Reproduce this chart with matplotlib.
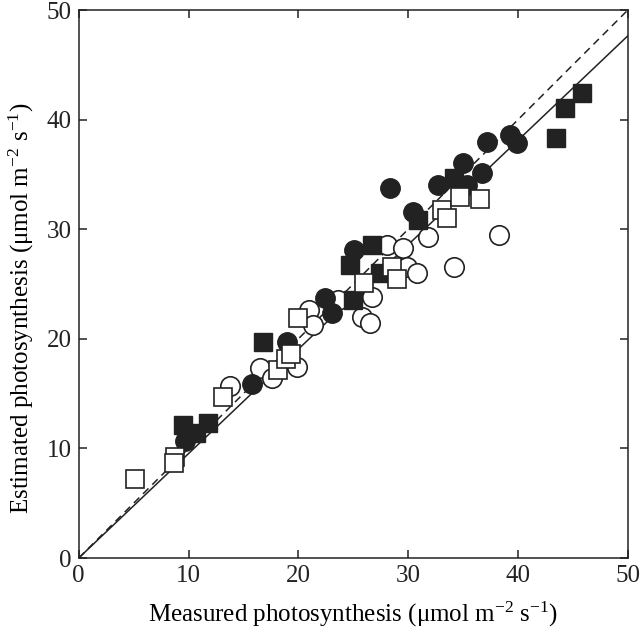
import numpy as np
import matplotlib
matplotlib.use('Agg')
import matplotlib.pyplot as plt

plt.rcParams['font.family'] = ['Liberation Serif', 'DejaVu Serif']
plt.rcParams['mathtext.fontset'] = 'custom'
plt.rcParams['mathtext.rm'] = 'Liberation Serif'
plt.rcParams['mathtext.it'] = 'Liberation Serif:italic'

# filled circles
fc_x = [9.7, 15.8, 19.0, 22.4, 23.1, 25.1, 28.3, 30.4, 32.7, 35.0, 35.4, 36.7, 37.2, 39.3, 39.9]
fc_y = [10.7, 15.9, 19.7, 23.7, 22.4, 28.1, 33.8, 31.6, 34.0, 36.0, 34.0, 35.1, 38.0, 38.6, 37.9]

# filled squares
fs_x = [9.5, 11.8, 10.7, 16.8, 25.0, 24.7, 26.7, 27.4, 30.9, 34.2, 43.5, 44.3, 45.8]
fs_y = [12.1, 12.3, 11.4, 19.7, 23.5, 26.7, 28.6, 26.0, 30.8, 34.7, 38.3, 41.1, 42.4]

# open circles
oc_x = [13.8, 16.5, 17.6, 19.9, 21.0, 21.3, 23.6, 25.8, 26.5, 26.7, 28.1, 29.5, 29.9, 30.8, 31.8, 34.2, 38.3]
oc_y = [15.7, 17.3, 16.4, 17.4, 22.6, 21.3, 23.5, 22.0, 21.4, 23.8, 28.6, 28.3, 26.6, 26.0, 29.3, 26.6, 29.5]

# open squares
os_x = [5.1, 8.8, 8.7, 13.1, 18.1, 18.9, 19.3, 20.0, 26.0, 28.5, 29.0, 33.1, 33.5, 34.7, 36.5]
os_y = [7.2, 9.2, 8.7, 14.7, 17.2, 18.2, 18.6, 21.9, 25.1, 26.6, 25.5, 31.8, 31.0, 32.9, 32.8]

slope = 0.953

fig = plt.figure(figsize=(6.4, 6.36), dpi=100)
ax = fig.add_axes([0.123, 0.1226, 0.858, 0.8616])

xx = np.array([0, 50])
ax.plot(xx, xx, color='#222222', linestyle=(0, (5, 3.5)), linewidth=1.1, zorder=1)
ax.plot(xx, slope * xx, color='#222222', linestyle='-', linewidth=1.1, zorder=1)

ms = 14
ax.plot(oc_x, oc_y, 'o', ms=ms, mfc='white', mec='#222222', mew=1.2, zorder=2)
ax.plot(fc_x, fc_y, 'o', ms=ms, mfc='#222222', mec='#222222', mew=1.0, zorder=3)
ax.plot(fs_x, fs_y, 's', ms=ms - 0.5, mfc='#222222', mec='#222222', mew=1.0, zorder=4)
ax.plot(os_x, os_y, 's', ms=ms - 0.5, mfc='white', mec='#222222', mew=1.2, zorder=5)

ax.set_xlim(0, 50)
ax.set_ylim(0, 50)
ax.set_xticks([0, 10, 20, 30, 40, 50])
ax.set_yticks([0, 10, 20, 30, 40, 50])
ax.tick_params(direction='in', length=6, width=1.1, top=True, right=True,
               labelsize=18, pad=5, colors='#222222')
for s in ax.spines.values():
    s.set_linewidth(1.1)
    s.set_color('#222222')

ax.set_xlabel('Measured photosynthesis (μmol m$^{-2}$ s$^{-1}$)', fontsize=18, labelpad=9)
ax.set_ylabel('Estimated photosynthesis (μmol m$^{-2}$ s$^{-1}$)', fontsize=18)
ax.yaxis.set_label_coords(-0.078, 0.455)

fig.savefig('out.png', dpi=100)
